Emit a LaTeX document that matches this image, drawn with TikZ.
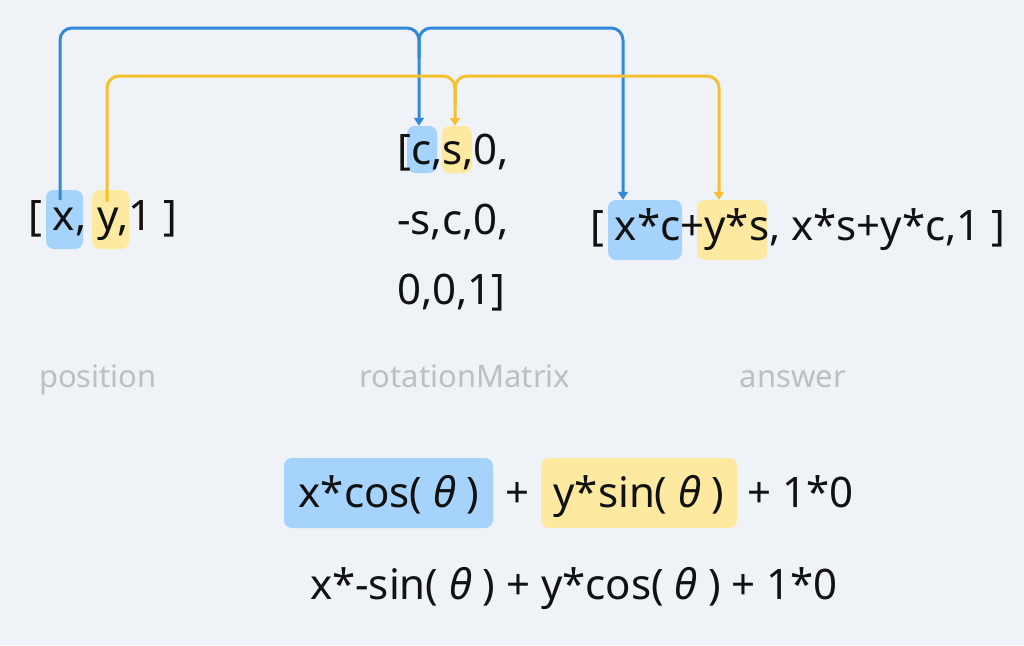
\documentclass[tikz,border=0pt]{standalone}
\usepackage{fontspec}
\setmainfont{Noto Sans}
\usetikzlibrary{arrows.meta}
\definecolor{bg}{HTML}{EFF3F7}
\definecolor{bline}{HTML}{3189DA}
\definecolor{bfill}{HTML}{A6D3FC}
\definecolor{yline}{HTML}{F5C12E}
\definecolor{yfill}{HTML}{FDE9A0}
\definecolor{labc}{HTML}{BDBFC2}
\definecolor{txt}{HTML}{111111}
\newcommand{\thet}{{\itshape θ}}
\tikzset{
  hlbox/.style={rounded corners=8pt, inner sep=0pt, draw=none},
  bluebox/.style={hlbox, fill=bfill},
  yelbox/.style={hlbox, fill=yfill},
  conn/.style={line width=3pt, rounded corners=12pt, -{Triangle[width=10pt,length=8pt]}},
  bconn/.style={conn, draw=bline},
  yconn/.style={conn, draw=yline},
  bigtxt/.style={inner sep=0pt, font=\fontsize{42}{46}\selectfont, text=txt},
  labtxt/.style={inner sep=0pt, font=\fontsize{31}{34}\selectfont, text=labc},
}
\begin{document}
\begin{tikzpicture}[x=1pt,y=-1pt]
\fill[bg] (0,0) rectangle (1024,645);
\useasboundingbox (0,0) rectangle (1024,645);

% highlight boxes
\node[bluebox, minimum width=37pt, minimum height=59pt] (hx) at (64.5,219.5) {};
\node[yelbox, minimum width=37pt, minimum height=59pt] (hy) at (110.5,219.5) {};
\node[bluebox, minimum width=30pt, minimum height=47pt] (hc) at (422,149.5) {};
\node[yelbox, minimum width=30pt, minimum height=47pt] (hs) at (457,149.5) {};
\node[bluebox, minimum width=74pt, minimum height=60pt] (ha) at (645,230) {};
\node[yelbox, minimum width=70pt, minimum height=60pt] (hb) at (732,230) {};
\node[bluebox, minimum width=209pt, minimum height=70pt] (hcos) at (388.5,493) {};
\node[yelbox, minimum width=196pt, minimum height=70pt] (hsin) at (639,493) {};

% texts
\node[bigtxt, anchor=base west] (pos) at (28,230) {[ x, y,1 ]};
\node[bigtxt, anchor=base west] (m1) at (397,164) {[c,s,0,};
\node[bigtxt, anchor=base west] (m2) at (397,234) {-s,c,0,};
\node[bigtxt, anchor=base west] (m3) at (397,304) {0,0,1]};
\node[bigtxt, anchor=base west] (ans) at (590,240) {[ x*c+y*s, x*s+y*c,1 ]};

\node[labtxt, anchor=base] (lpos) at (98,387) {position};
\node[labtxt, anchor=base] (lrot) at (465,387) {rotationMatrix};
\node[labtxt, anchor=base] (lans) at (793,387) {answer};

\node[bigtxt, anchor=base] (t1) at (389,507) {x*cos( \thet\ )};
\node[bigtxt, anchor=base] (p1) at (518,507) {+};
\node[bigtxt, anchor=base] (t2) at (639,507) {y*sin( \thet\ )};
\node[bigtxt, anchor=base west] (t3) at (747,507) {+ 1*0};
\node[bigtxt, anchor=base] (r2) at (574,599) {x*-sin( \thet\ ) + y*cos( \thet\ ) + 1*0};

% connector levels
\coordinate (btop) at (0,28);
\coordinate (ytop) at (0,76);
\coordinate (xs) at ([xshift=-4.5pt,yshift=-10pt]hx.north);
\coordinate (ys) at ([xshift=-3.5pt,yshift=-12pt]hy.north);
\coordinate (cin) at ([xshift=-3pt]hc.north);
\coordinate (sin) at ([xshift=-2pt]hs.north);
\coordinate (ain) at ([xshift=-22pt]ha.north);
\coordinate (bin) at ([xshift=-13pt]hb.north);
\coordinate (bfork) at ([yshift=-30pt]cin |- btop);
\coordinate (yfork) at ([yshift=-30pt]sin |- ytop);

\draw[bconn] (xs) |- (cin |- btop) -- (cin);
\draw[bconn] (bfork) -- (cin |- btop) -| (ain);
\draw[yconn] (ys) |- (sin |- ytop) -- (sin);
\draw[yconn] (yfork) -- (sin |- ytop) -| (bin);
\end{tikzpicture}
\end{document}
